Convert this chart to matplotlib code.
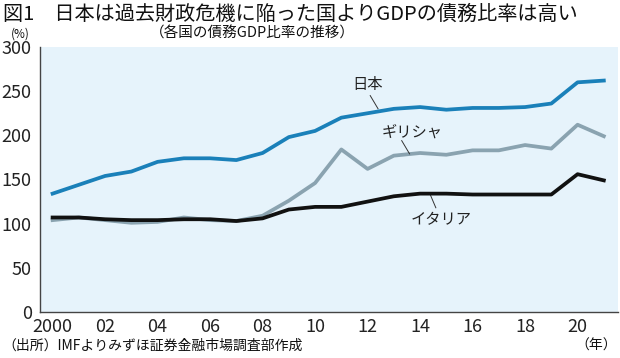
import matplotlib
matplotlib.use("Agg")
import matplotlib.pyplot as plt

plt.rcParams['font.family'] = ['Noto Sans CJK JP', 'DejaVu Sans']

# 債務GDP比率 (%)
years = list(range(2000, 2022))
japan = [134, 144, 154, 159, 170, 174, 174, 172, 180, 198, 205, 220,
         225, 230, 232, 229, 231, 231, 232, 236, 260, 262]
greece = [104, 107, 104, 101, 102, 107, 104, 103, 109, 126, 146, 184,
          162, 177, 180, 178, 183, 183, 189, 185, 212, 199]
italy = [107, 107, 105, 104, 104, 105, 105, 103, 106, 116, 119, 119,
         125, 131, 134, 134, 133, 133, 133, 133, 156, 149]
xticks = [2000, 2002, 2004, 2006, 2008, 2010, 2012, 2014, 2016, 2018, 2020]
xticklabels = ['2000', '02', '04', '06', '08', '10', '12', '14', '16', '18', '20']
yticks = [0, 50, 100, 150, 200, 250, 300]

fig = plt.figure(figsize=(6.2, 3.58), dpi=100)
ax = fig.add_axes([40 / 620, 46 / 358, 578 / 620, 265 / 358])
ax.set_facecolor('#e6f3fb')

ax.plot(years, greece, color='#8aa3b0', lw=2.7, zorder=2)
ax.plot(years, italy, color='#111111', lw=2.7, zorder=3)
ax.plot(years, japan, color='#1a80b9', lw=2.7, zorder=4)

ax.set_xlim(1999.52, 2021.54)
ax.set_ylim(0, 300)
ax.set_xticks(xticks)
ax.set_xticklabels(xticklabels)
ax.set_yticks(yticks)
ax.tick_params(axis='both', length=0, labelsize=13, colors='#222222')
ax.tick_params(axis='y', pad=6)
ax.tick_params(axis='x', pad=4)
for s in ['top', 'right']:
    ax.spines[s].set_visible(False)
for s in ['left', 'bottom']:
    ax.spines[s].set_color('#444444')
    ax.spines[s].set_linewidth(1.0)

# 系列ラベルと引き出し線
ax.text(2012.0, 257, '日本', fontsize=11, ha='center', va='center', color='#222222')
ax.plot([2012.1, 2012.4], [245, 230], color='#333333', lw=0.7)
ax.text(2013.7, 204, 'ギリシャ', fontsize=11, ha='center', va='center', color='#222222')
ax.plot([2013.3, 2013.6], [194, 179], color='#333333', lw=0.7)
ax.text(2014.8, 104, 'イタリア', fontsize=11, ha='center', va='center', color='#222222')
ax.plot([2014.4, 2014.6], [132, 118], color='#333333', lw=0.7)

fig.text(3 / 620, 1 - 14 / 358, '図1\u3000日本は過去財政危機に陥った国よりGDPの債務比率は高い',
         fontsize=14.5, ha='left', va='center', color='#111111')
fig.text(252 / 620, 1 - 34 / 358, '（各国の債務GDP比率の推移）',
         fontsize=10.5, ha='center', va='center', color='#111111')
fig.text(20 / 620, 1 - 34 / 358, '(%)', fontsize=8.5, ha='center', va='center', color='#111111')
fig.text(2 / 620, 1 - 346 / 358, '（出所）IMFよりみずほ証券金融市場調査部作成',
         fontsize=10, ha='left', va='center', color='#111111')
fig.text(617 / 620, 1 - 346 / 358, '（年）', fontsize=10, ha='right', va='center', color='#111111')

fig.savefig('out.png', dpi=100)
